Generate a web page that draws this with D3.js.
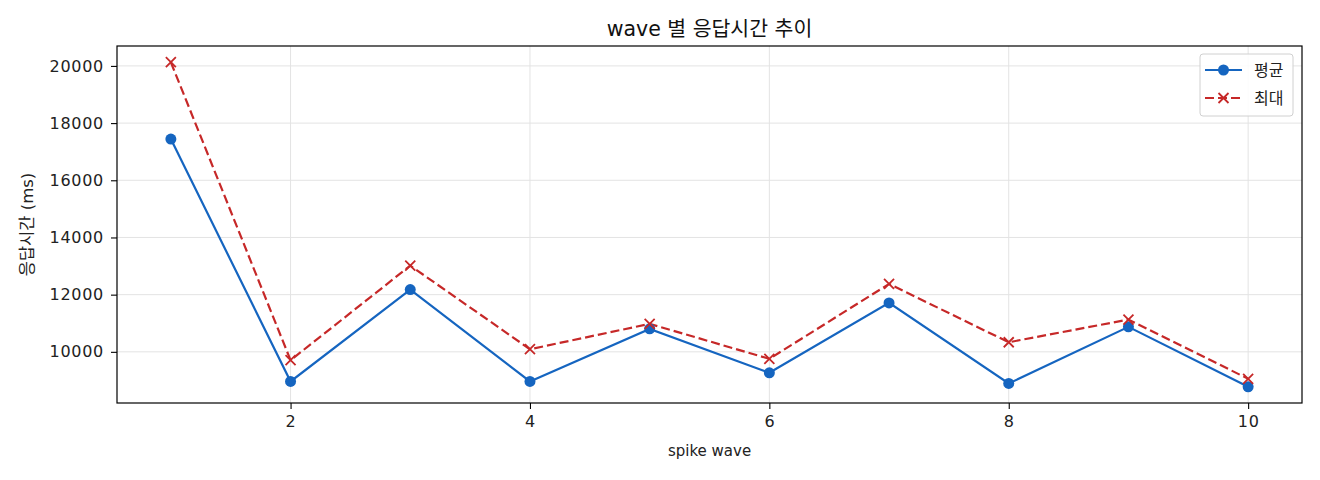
<!DOCTYPE html>
<html>
<head>
<meta charset="utf-8">
<script src="https://cdn.jsdelivr.net/npm/d3@7"></script>
<style>
  body { margin: 0; background: #fff; }
  svg { display: block; font-family: "DejaVu Sans", "Noto Sans CJK KR", sans-serif; }
</style>
</head>
<body>
<div id="chart"></div>
<script>
// wave numbers
const waves = [1, 2, 3, 4, 5, 6, 7, 8, 9, 10];
// mean / max response time (ms)
const meanMs = [17440, 8963, 12176, 8963, 10803, 9267, 11711, 8893, 10873, 8778];
const maxMs = [20129, 9707, 13014, 10091, 10978, 9755, 12375, 10335, 11128, 9057];
const xTicks = [2, 4, 6, 8, 10];
const yTicks = [10000, 12000, 14000, 16000, 18000, 20000];

const width = 1320, height = 480;
const margin = { top: 46, right: 18, bottom: 77, left: 117 };
const blue = "#1565c0", red = "#c62828";

const svg = d3.select("#chart").append("svg")
  .attr("width", width)
  .attr("height", height);

// matplotlib style 5% margins
const xPad = (d3.max(waves) - d3.min(waves)) * 0.05;
const allY = meanMs.concat(maxMs);
const yPad = (d3.max(allY) - d3.min(allY)) * 0.05;

const x = d3.scaleLinear()
  .domain([d3.min(waves) - xPad, d3.max(waves) + xPad])
  .range([margin.left, width - margin.right]);

const y = d3.scaleLinear()
  .domain([d3.min(allY) - yPad, d3.max(allY) + yPad])
  .range([height - margin.bottom, margin.top]);

const plotW = width - margin.left - margin.right;
const plotH = height - margin.top - margin.bottom;

// grid
svg.append("g")
  .selectAll("line")
  .data(xTicks)
  .join("line")
  .attr("x1", d => x(d)).attr("x2", d => x(d))
  .attr("y1", margin.top).attr("y2", height - margin.bottom)
  .attr("stroke", "#e3e3e3").attr("stroke-width", 1);

svg.append("g")
  .selectAll("line")
  .data(yTicks)
  .join("line")
  .attr("x1", margin.left).attr("x2", width - margin.right)
  .attr("y1", d => y(d)).attr("y2", d => y(d))
  .attr("stroke", "#e3e3e3").attr("stroke-width", 1);

// axes
const xAxis = svg.append("g")
  .attr("transform", `translate(0,${height - margin.bottom})`)
  .call(d3.axisBottom(x).tickValues(xTicks).tickSize(6).tickPadding(7).tickFormat(d3.format("d")));

const yAxis = svg.append("g")
  .attr("transform", `translate(${margin.left},0)`)
  .call(d3.axisLeft(y).tickValues(yTicks).tickSize(6).tickPadding(7).tickFormat(d3.format("d")));

[xAxis, yAxis].forEach(a => {
  a.select(".domain").remove();
  a.selectAll("line").attr("stroke", "#000").attr("stroke-width", 1.1);
  a.selectAll("text").attr("fill", "#222").style("font-size", "16px")
    .style("letter-spacing", "0.7px")
    .style("font-family", "\"DejaVu Sans\", sans-serif");
});

// frame
svg.append("rect")
  .attr("x", margin.left).attr("y", margin.top)
  .attr("width", plotW).attr("height", plotH)
  .attr("fill", "none").attr("stroke", "#000").attr("stroke-width", 1.2);

// lines
const line = data => d3.line()
  .x((d, i) => x(waves[i]))
  .y(d => y(d))(data);

svg.append("path")
  .attr("d", line(meanMs))
  .attr("fill", "none").attr("stroke", blue).attr("stroke-width", 2.2);

svg.append("path")
  .attr("d", line(maxMs))
  .attr("fill", "none").attr("stroke", red).attr("stroke-width", 2.2)
  .attr("stroke-dasharray", "9,4");

svg.append("g")
  .selectAll("circle")
  .data(meanMs)
  .join("circle")
  .attr("cx", (d, i) => x(waves[i]))
  .attr("cy", d => y(d))
  .attr("r", 5.5)
  .attr("fill", blue);

const cross = (g, cx, cy, s) => g.append("path")
  .attr("d", `M${cx - s},${cy - s}L${cx + s},${cy + s}M${cx - s},${cy + s}L${cx + s},${cy - s}`)
  .attr("stroke", red).attr("stroke-width", 1.8).attr("fill", "none");

const crossG = svg.append("g");
maxMs.forEach((d, i) => cross(crossG, x(waves[i]), y(d), 5));

// title and labels
svg.append("text")
  .attr("x", margin.left + plotW / 2).attr("y", 36)
  .attr("text-anchor", "middle")
  .style("font-size", "20.5px").attr("fill", "#111")
  .text("wave 별 응답시간 추이");

svg.append("text")
  .attr("x", margin.left + plotW / 2).attr("y", 456)
  .attr("text-anchor", "middle")
  .style("font-size", "15px").attr("fill", "#222")
  .text("spike wave");

svg.append("text")
  .attr("transform", `translate(33,${margin.top + plotH / 2}) rotate(-90)`)
  .attr("text-anchor", "middle")
  .style("font-size", "16.5px").attr("fill", "#222")
  .text("응답시간 (ms)");

// legend
const lg = svg.append("g").attr("transform", "translate(1200,54)");
lg.append("rect")
  .attr("width", 93).attr("height", 62).attr("rx", 3)
  .attr("fill", "#fff").attr("fill-opacity", 0.85)
  .attr("stroke", "#d0d0d0").attr("stroke-width", 1);

lg.append("line").attr("x1", 5).attr("x2", 42).attr("y1", 16).attr("y2", 16)
  .attr("stroke", blue).attr("stroke-width", 2.2);
lg.append("circle").attr("cx", 23.5).attr("cy", 16).attr("r", 5.5).attr("fill", blue);
lg.append("line").attr("x1", 5).attr("x2", 42).attr("y1", 44).attr("y2", 44)
  .attr("stroke", red).attr("stroke-width", 2.2).attr("stroke-dasharray", "9,4");
cross(lg, 23.5, 44, 5);

lg.append("text").attr("x", 54).attr("y", 22).style("font-size", "16px").attr("fill", "#222").text("평균");
lg.append("text").attr("x", 54).attr("y", 50).style("font-size", "16px").attr("fill", "#222").text("최대");
</script>
</body>
</html>
